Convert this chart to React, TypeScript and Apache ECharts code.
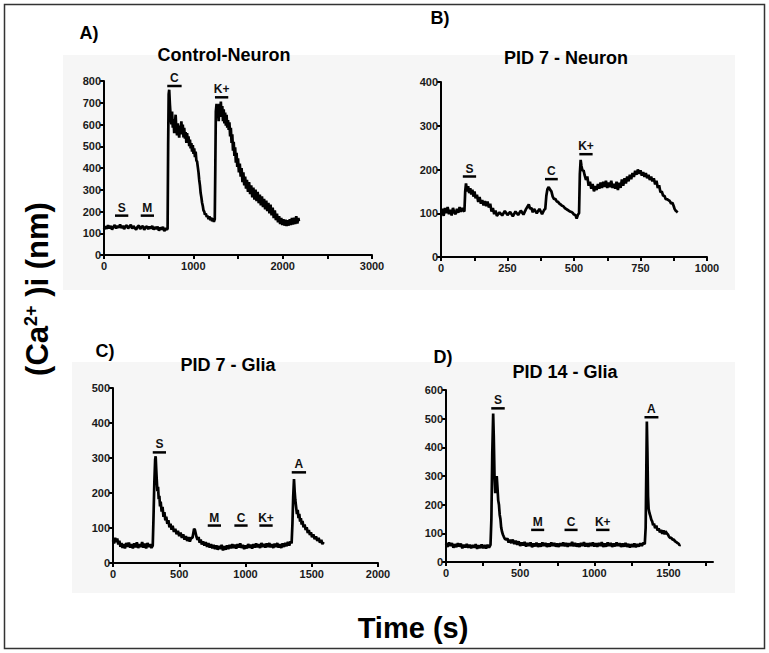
import React, { useEffect, useRef } from "react";
import * as echarts from "echarts";

const FONT = "'Liberation Sans', Arial, sans-serif";

// ---- Panel A: Control-Neuron ----
const aTrace: number[][] = [
  [0,118],[15,132],[30,120],[45,137],[60,123],[75,133],[90,117],[105,130],[120,138],[135,122],[150,134],[165,125],[180,140],[195,124],[210,135],[225,119],[240,132],[255,137],[270,122],[285,131],[300,139],[315,121],[330,133],[345,124],[360,117],[375,130],[390,135],[405,120],[420,129],[435,133],[450,116],[465,127],[480,132],[495,119],[510,130],[525,122],[540,134],[555,117],[570,128],[585,120],[600,130],[615,112],[630,126],[645,118],[660,129],[675,110],[690,123],[705,116],[712,122],
  [718,500],[724,740],[730,760],[738,690],[746,640],[754,600],[762,660],[770,585],[778,625],[786,560],[794,605],[802,645],[810,575],[818,550],[826,605],[834,565],[842,540],[850,595],[858,555],[866,615],[874,570],[882,600],[890,540],[898,585],[906,535],[914,565],[922,515],[930,560],[938,520],[946,545],[954,500],[962,530],[970,490],[978,515],[986,475],[994,505],[1002,465],[1010,490],[1018,450],[1026,475],[1034,435],[1042,430],[1050,405],[1058,380],[1066,345],[1074,320],[1082,285],[1090,265],[1098,240],[1106,225],[1114,205],[1122,200],[1130,185],[1140,190],[1150,175],[1160,180],[1170,165],[1180,178],[1190,160],[1200,172],[1210,155],[1220,168],[1230,152],[1240,165],
  [1246,400],[1252,660],[1260,695],[1268,635],[1276,675],[1284,615],[1292,695],[1300,645],[1308,705],[1316,635],[1324,685],[1332,615],[1340,670],[1348,605],[1356,655],[1364,595],[1372,645],[1380,585],[1388,620],
  [1396,575],[1404,610],[1412,545],[1420,585],[1428,515],[1436,555],[1444,480],[1452,520],[1460,455],[1468,495],[1476,425],[1484,470],[1492,405],[1500,445],[1510,380],[1520,420],[1530,360],[1540,400],[1550,335],[1560,380],[1570,320],[1580,360],[1590,305],[1600,345],[1612,290],[1624,335],[1636,280],[1648,320],[1660,265],[1672,310],[1684,255],[1696,300],[1708,248],[1720,290],[1732,238],[1744,278],[1756,228],[1768,270],[1780,220],[1792,258],[1804,210],[1816,250],[1828,202],[1840,240],[1852,192],[1864,232],[1876,182],[1888,218],[1900,170],[1912,205],[1924,160],[1936,190],[1948,150],[1960,178],[1972,142],[1984,170],[1996,138],[2008,165],[2020,135],[2032,162],[2044,133],[2056,160],[2068,135],[2080,165],[2092,138],[2104,170],[2116,140],[2128,172],[2140,142],[2152,178],[2164,145],[2176,170],[2182,155]
];
const aMarks: number[][] = [[123,272,181],[411,560,181],[708,869,777],[1242,1391,725]];
const aMarkLabels = ["S","M","C","K+"];

// ---- Panel B: PID 7 - Neuron ----
const bTrace: number[][] = [
  [0,96],[5,110],[10,94],[15,112],[20,100],[25,114],[30,98],[35,108],[40,95],[45,112],[50,102],[55,98],[60,110],[65,101],[70,114],[75,103],[80,112],[85,106],[88,104],
  [91,150],[94,168],[98,150],[102,162],[106,146],[110,157],[114,143],[118,154],[122,138],[126,150],[130,134],[135,142],[140,126],[145,137],[150,122],[155,130],[160,118],[165,128],[170,116],[175,127],[180,113],[185,122],[190,104],[195,112],[200,98],[205,106],[210,94],[220,102],[230,95],[240,105],[250,96],[260,103],[270,93],[280,104],[290,96],[300,106],[310,97],[320,110],[325,115],[330,120],[335,110],[340,112],[345,102],[350,110],[360,100],[370,110],[380,98],[388,108],[392,110],
  [396,140],[400,155],[405,160],[410,154],[415,150],[420,138],[425,132],[430,133],[435,127],[440,126],[445,122],[450,120],[455,117],[460,116],[465,112],[470,110],[475,108],[480,106],[485,104],[490,103],[495,101],[500,97],[505,96],[510,88],[515,97],[519,100],
  [522,190],[525,222],[528,208],[532,197],[536,198],[540,187],[545,176],[550,184],[555,163],[560,172],[565,156],[570,167],[575,150],[580,162],[585,153],[590,167],[595,156],[600,170],[605,158],[610,172],[615,160],[620,174],[625,158],[630,170],[635,160],[640,174],[645,158],[650,167],[655,156],[660,172],[665,153],[670,170],[675,158],[680,177],[685,163],[690,180],[695,168],[700,184],[705,173],[710,188],[715,178],[720,192],[725,183],[730,197],[735,188],[740,200],[745,190],[750,198],[755,186],[760,194],[765,183],[770,192],[775,180],[780,188],[785,176],[790,184],[795,173],[800,180],[805,166],[810,174],[815,158],[820,164],[825,148],[830,150],[835,140],[840,140],[845,132],[850,132],[855,130],[860,128],[865,122],[870,124],[875,116],[878,110],[882,106],[886,104],[890,102]
];
const bMarks: number[][] = [[82,132,184],[391,439,178],[520,570,235]];
const bMarkLabels = ["S","C","K+"];

// ---- Panel C: PID 7 - Glia ----
const cTrace: number[][] = [
  [0,65],[8,56],[16,72],[24,60],[32,70],[40,53],[48,64],[56,46],[64,57],[72,43],[80,54],[90,42],[100,57],[110,46],[120,58],[130,44],[140,54],[150,42],[160,56],[170,45],[180,59],[190,43],[200,54],[210,46],[220,60],[230,44],[240,55],[250,42],[260,57],[270,46],[280,54],[290,43],[300,50],
  [305,120],[312,230],[318,295],[322,305],[326,270],[330,240],[335,205],[340,218],[345,182],[350,192],[355,162],[360,175],[367,147],[374,160],[381,132],[388,145],[395,122],[402,132],[410,112],[418,122],[426,102],[434,112],[442,95],[450,106],[460,89],[470,98],[480,82],[490,92],[500,77],[510,87],[520,72],[530,82],[540,67],[550,77],[560,63],[570,74],[580,61],[590,72],[600,72],[606,85],[612,98],[618,95],[624,85],[630,75],[638,66],[646,74],[654,58],[662,67],[670,53],[680,62],[690,50],[700,60],[710,46],[720,57],[730,44],[740,54],[750,42],[760,52],[770,40],[780,50],[790,38],[800,49],[810,40],[820,52],[830,36],[840,48],[850,38],[860,50],[870,40],[880,52],[890,42],[900,54],[910,43],[920,52],[930,41],[940,54],[950,44],[960,56],[970,43],[980,52],[990,40],[1000,50],[1010,42],[1020,54],[1030,44],[1040,52],[1050,41],[1060,54],[1070,44],[1080,56],[1090,45],[1100,54],[1110,43],[1120,57],[1130,46],[1140,54],[1150,44],[1160,56],[1170,46],[1180,57],[1190,45],[1200,54],[1210,43],[1220,55],[1230,46],[1240,57],[1250,44],[1260,54],[1270,43],[1280,56],[1290,46],[1300,57],[1310,48],[1320,60],[1330,50],[1340,62],[1348,56],
  [1354,110],[1360,190],[1366,240],[1371,205],[1376,180],[1382,160],[1388,140],[1394,152],[1400,128],[1406,140],[1412,118],[1418,128],[1424,110],[1430,120],[1438,102],[1446,110],[1454,94],[1462,102],[1470,86],[1478,94],[1486,80],[1494,88],[1502,74],[1512,82],[1522,68],[1532,76],[1542,63],[1552,72],[1562,58],[1572,66],[1580,54],[1590,60]
];
const cMarks: number[][] = [[300,400,316],[715,815,107],[916,1016,107],[1105,1205,107],[1349,1457,259]];
const cMarkLabels = ["S","M","C","K+","A"];

// ---- Panel D: PID 14 - Glia ----
const dTrace: number[][] = [
  [0,64],[10,53],[20,68],[30,56],[40,66],[50,50],[60,62],[70,52],[80,65],[90,54],[100,64],[110,48],[120,60],[130,51],[140,63],[150,50],[160,60],[170,48],[180,59],[190,50],[200,62],[210,46],[220,58],[230,49],[240,61],[250,48],[260,59],[270,47],[280,60],[290,50],[300,60],
  [306,150],[312,380],[318,518],[322,440],[327,300],[332,240],[337,290],[342,300],[347,260],[352,215],[357,200],[362,165],[367,150],[372,120],[378,105],[384,95],[390,88],[398,80],[406,78],[414,82],[422,68],[430,77],[440,66],[450,78],[460,63],[470,74],[480,60],[490,72],[500,56],[510,68],[520,58],[530,70],[540,54],[550,66],[560,56],[570,68],[580,52],[590,64],[600,55],[610,67],[620,53],[630,64],[640,54],[650,68],[660,56],[670,66],[680,53],[690,64],[700,54],[710,68],[720,56],[730,66],[740,54],[750,64],[760,53],[770,65],[780,56],[790,68],[800,55],[810,66],[820,53],[830,65],[840,56],[850,70],[860,55],[870,66],[880,54],[890,64],[900,53],[910,66],[920,56],[930,69],[940,54],[950,65],[960,53],[970,66],[980,56],[990,68],[1000,54],[1010,65],[1020,53],[1030,66],[1040,56],[1050,69],[1060,53],[1070,64],[1080,54],[1090,68],[1100,56],[1110,66],[1120,53],[1130,64],[1140,55],[1150,68],[1160,56],[1170,65],[1180,53],[1190,64],[1200,54],[1210,66],[1220,53],[1230,63],[1240,51],[1250,62],[1260,53],[1270,64],[1280,52],[1290,62],[1300,54],[1310,65],[1320,56],[1330,67],[1340,62],
  [1346,120],[1350,300],[1354,490],[1358,380],[1362,230],[1366,185],[1372,170],[1378,160],[1384,148],[1390,142],[1396,128],[1402,134],[1410,118],[1418,127],[1426,110],[1434,117],[1442,103],[1450,112],[1458,98],[1466,110],[1474,96],[1480,108],[1488,100],[1496,96],[1504,88],[1512,84],[1520,84],[1528,78],[1536,78],[1544,72],[1552,70],[1560,66],[1568,64],[1575,58],[1580,60]
];
const dMarks: number[][] = [[305,396,536],[574,662,112],[799,887,112],[1012,1102,112],[1338,1432,505]];
const dMarkLabels = ["S","M","C","K+","A"];

const panelTitles = ["Control-Neuron", "PID 7 - Neuron", "PID 7 - Glia", "PID 14 - Glia"];
const panelLetters = ["A)", "B)", "C)", "D)"];
const xMaxes = [3000, 1000, 2000, 1800];
const xTickSteps = [500, 125, 500, 250];
const xLabelSteps = [1000, 250, 500, 500];
const yMaxes = [800, 400, 500, 600];
const yStep = 100;

const traces = [aTrace, bTrace, cTrace, dTrace];
const marks = [aMarks, bMarks, cMarks, dMarks];
const markLabels = [aMarkLabels, bMarkLabels, cMarkLabels, dMarkLabels];

export default function App() {
  const ref = useRef<HTMLDivElement>(null);
  useEffect(() => {
    document.body.style.margin = "0";
    const chart = echarts.init(ref.current!, null, { renderer: "svg" });

    const grids = [
      { left: 104, top: 81, width: 268, height: 174 },
      { left: 441, top: 82, width: 266, height: 175 },
      { left: 113, top: 388, width: 265, height: 175 },
      { left: 446, top: 390, width: 267, height: 172 },
    ];

    const axisLine = { show: true, onZero: false, lineStyle: { color: "#000", width: 2 } };
    const tickStyle = { color: "#000", width: 2 };
    const labelStyle = { fontSize: 11, fontWeight: "bold" as const, color: "#1a1a1a", fontFamily: FONT };

    const xAxes = grids.map((_, i) => {
      const ticks: number[] = [];
      for (let v = 0; v < xMaxes[i] + 1; v += xTickSteps[i]) ticks.push(v);
      const labels = ticks.filter((v) => v % xLabelSteps[i] === 0);
      return {
        gridIndex: i,
        type: "value",
        min: 0,
        max: xMaxes[i],
        interval: xTickSteps[i],
        axisLine,
        axisTick: { show: true, length: 4, lineStyle: tickStyle, customValues: ticks },
        axisLabel: { ...labelStyle, margin: 5, customValues: labels,
          formatter: (v: number) => (v % xLabelSteps[i] === 0 ? String(v) : "") },
        splitLine: { show: false },
      };
    });
    const yAxes = grids.map((_, i) => ({
      gridIndex: i,
      type: "value",
      min: 0,
      max: yMaxes[i],
      interval: yStep,
      axisLine,
      axisTick: { show: true, length: 4, lineStyle: tickStyle },
      axisLabel: { ...labelStyle, margin: 3 },
      splitLine: { show: false },
    }));

    const lineSeries = traces.map((t, i) => ({
      type: "line",
      xAxisIndex: i,
      yAxisIndex: i,
      data: t,
      showSymbol: false,
      symbol: "none",
      lineStyle: { color: "#000", width: 2.7 },
      silent: true,
    }));

    const markSeries = marks.map((m, i) => ({
      type: "custom",
      xAxisIndex: i,
      yAxisIndex: i,
      clip: false,
      silent: true,
      encode: { x: [0, 1], y: 2 },
      data: m,
      renderItem: (params: any, api: any) => {
        const p0 = api.coord([api.value(0), api.value(2)]);
        const p1 = api.coord([api.value(1), api.value(2)]);
        return {
          type: "group",
          children: [
            { type: "line", shape: { x1: p0[0], y1: p0[1], x2: p1[0], y2: p1[1] },
              style: { stroke: "#000", lineWidth: 2.5 } },
            { type: "text", x: (p0[0] + p1[0]) / 2, y: p0[1] - 2,
              style: { text: markLabels[i][params.dataIndex], fontSize: 12, fontWeight: "bold",
                fontFamily: FONT, fill: "#111", align: "center", verticalAlign: "bottom" } },
          ],
        };
      },
    }));

    const titlePos = [[224, 55], [566, 58], [228, 365], [565, 372]];
    const letterPos = [[89, 33], [440, 18], [105, 351], [443, 357]];

    const graphic: any[] = [
      { type: "rect", z: -10, shape: { x: 63, y: 55, width: 672, height: 235 }, style: { fill: "#f6f6f6" } },
      { type: "rect", z: -10, shape: { x: 72, y: 362, width: 663, height: 231 }, style: { fill: "#f6f6f6" } },
      { type: "rect", z: -9, shape: { x: 4.5, y: 4.5, width: 760, height: 644 }, style: { fill: "none", stroke: "#333", lineWidth: 1.5 } },
      { type: "text", x: 413, y: 628, style: { text: "Time (s)", fontSize: 29, fontWeight: "bold", fontFamily: FONT, fill: "#000", align: "center", verticalAlign: "middle" } },
      { type: "text", x: 37, y: 289, rotation: Math.PI / 2,
        style: { text: "{a|(Ca}{b|2+}{a| )i (nm)}", fontFamily: FONT, fill: "#000", align: "center", verticalAlign: "middle",
          rich: { a: { fontSize: 31, fontWeight: "bold", fontFamily: FONT, fill: "#000" },
                  b: { fontSize: 18, fontWeight: "bold", fontFamily: FONT, fill: "#000", verticalAlign: "top" } } } },
    ];
    panelTitles.forEach((t, i) => {
      graphic.push({ type: "text", x: titlePos[i][0], y: titlePos[i][1],
        style: { text: t, fontSize: 18, fontWeight: "bold", fontFamily: FONT, fill: "#000", align: "center", verticalAlign: "middle" } });
      graphic.push({ type: "text", x: letterPos[i][0], y: letterPos[i][1],
        style: { text: panelLetters[i], fontSize: 18, fontWeight: "bold", fontFamily: FONT, fill: "#000", align: "center", verticalAlign: "middle" } });
    });

    chart.setOption({
      animation: false,
      backgroundColor: "#fff",
      grid: grids,
      xAxis: xAxes,
      yAxis: yAxes,
      series: [...lineSeries, ...markSeries],
      graphic,
    } as any);

    return () => chart.dispose();
  }, []);
  return <div ref={ref} style={{ width: 769, height: 653 }} />;
}
